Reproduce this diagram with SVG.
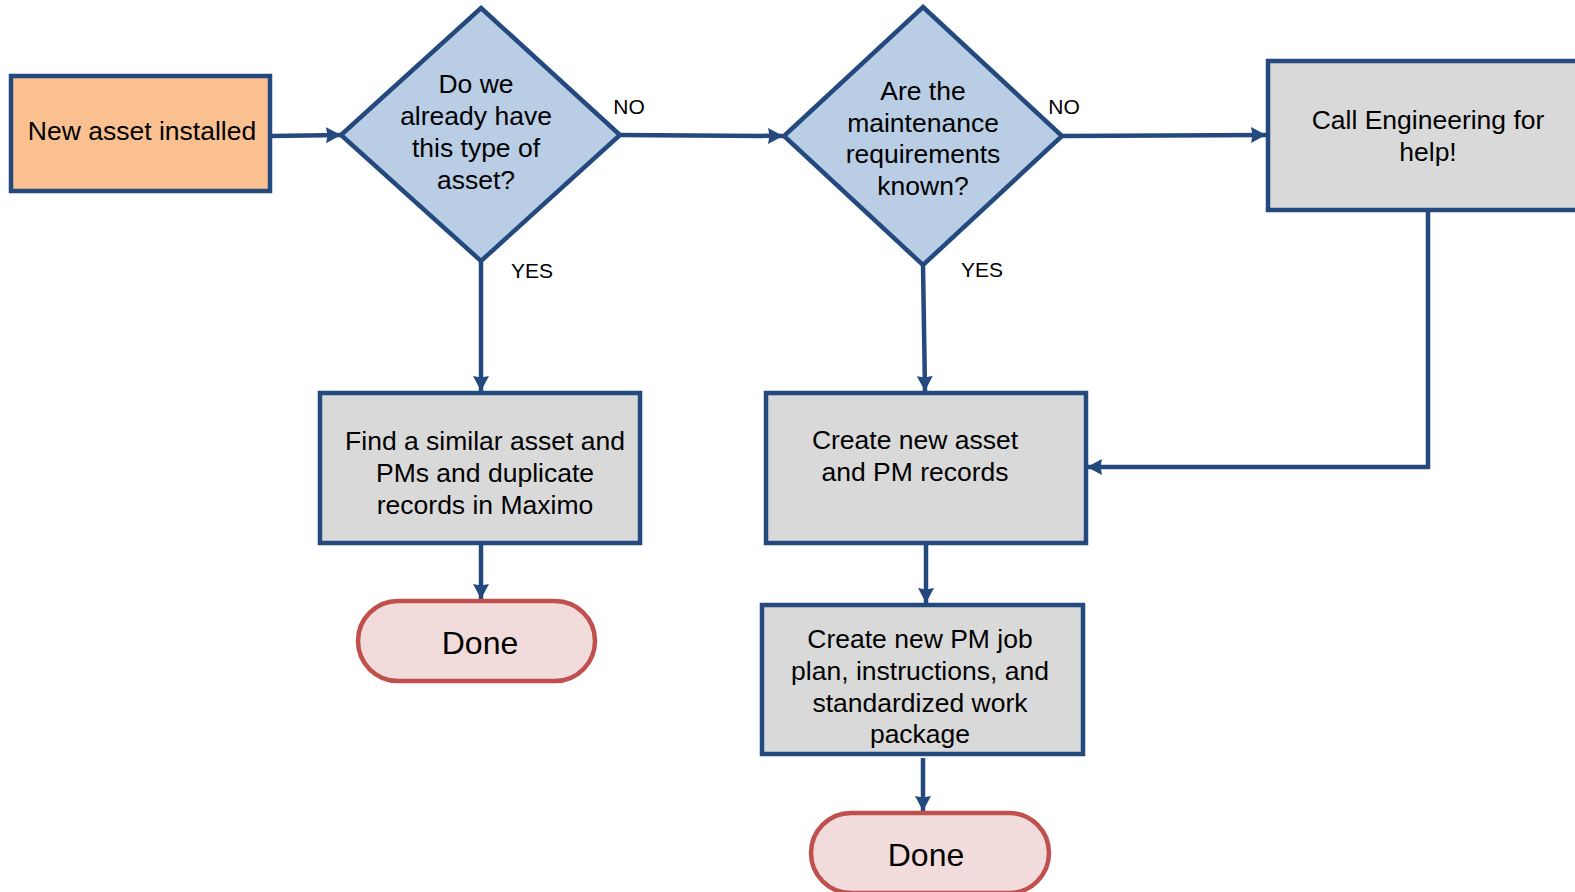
<svg xmlns="http://www.w3.org/2000/svg" width="1575" height="892" viewBox="0 0 1575 892">
<style>
.t{font-family:"Liberation Sans",Arial,sans-serif;font-size:26.5px;fill:#000;text-anchor:middle}
.lbl{font-family:"Liberation Sans",Arial,sans-serif;font-size:21px;fill:#000;text-anchor:middle}
.done{font-family:"Liberation Sans",Arial,sans-serif;font-size:32px;fill:#000;text-anchor:middle}
.box{fill:#D9D9D9;stroke:#24497E;stroke-width:4.5}
.dia{fill:#B9CDE5;stroke:#24497E;stroke-width:4.5;stroke-linejoin:miter}
.term{fill:#F2DCDB;stroke:#C0504D;stroke-width:4.5}
.c{fill:none;stroke:#24497E;stroke-width:4.5;marker-end:url(#ah)}
</style>
<defs>
<marker id="ah" markerUnits="userSpaceOnUse" markerWidth="17" markerHeight="17" refX="15" refY="8" orient="auto">
<path d="M0,0 L15,8 L0,16 L1.5,8 z" fill="#24497E"/>
</marker>
</defs>
<rect width="1575" height="892" fill="#fff"/>
<g id="connectors">
<path class="c" d="M271,136 L341,135"/>
<path class="c" d="M620,135 L783,136"/>
<path class="c" d="M1062,136 L1266,135"/>
<path class="c" d="M481,262 L481,391"/>
<path class="c" d="M923,265 L925,391"/>
<path class="c" d="M1428,210 L1428,467 L1087,467"/>
<path class="c" d="M481,543 L481,599"/>
<path class="c" d="M926,543 L926,603"/>
<path class="c" d="M923,758 L923,811"/>
</g>
<g id="labels">
<text class="lbl" x="629" y="114">NO</text>
<text class="lbl" x="1064" y="114">NO</text>
<text class="lbl" x="532" y="278">YES</text>
<text class="lbl" x="982" y="277">YES</text>
</g>
<g id="start">
<rect x="11" y="76" width="259" height="115" fill="#FAC090" stroke="#24497E" stroke-width="4.5"/>
<text class="t" x="142" y="140">New asset installed</text>
</g>
<g id="decision1">
<polygon class="dia" points="481,8 620,135 481,261 341,135"/>
<text class="t" x="476" y="93">Do we</text>
<text class="t" x="476" y="125">already have</text>
<text class="t" x="476" y="157">this type of</text>
<text class="t" x="476" y="189">asset?</text>
</g>
<g id="decision2">
<polygon class="dia" points="923,7 1062,136 923,265 784,136"/>
<text class="t" x="923" y="100">Are the</text>
<text class="t" x="923" y="132">maintenance</text>
<text class="t" x="923" y="163">requirements</text>
<text class="t" x="923" y="195">known?</text>
</g>
<g id="callEngineering">
<rect class="box" x="1268" y="61" width="330" height="149"/>
<text class="t" x="1428" y="129">Call Engineering for</text>
<text class="t" x="1428" y="161">help!</text>
</g>
<g id="findSimilar">
<rect class="box" x="320" y="393" width="320" height="150"/>
<text class="t" x="485" y="450">Find a similar asset and</text>
<text class="t" x="485" y="482">PMs and duplicate</text>
<text class="t" x="485" y="514">records in Maximo</text>
</g>
<g id="createAsset">
<rect class="box" x="766" y="393" width="320" height="150"/>
<text class="t" x="915" y="449">Create new asset</text>
<text class="t" x="915" y="481">and PM records</text>
</g>
<g id="createJobPlan">
<rect class="box" x="762" y="605" width="321" height="149"/>
<text class="t" x="920" y="648">Create new PM job</text>
<text class="t" x="920" y="680">plan, instructions, and</text>
<text class="t" x="920" y="712">standardized work</text>
<text class="t" x="920" y="743">package</text>
</g>
<g id="done1">
<rect class="term" x="358" y="601" width="237" height="80" rx="40" ry="40"/>
<text class="done" x="480" y="654">Done</text>
</g>
<g id="done2">
<rect class="term" x="811" y="813" width="238" height="80" rx="40" ry="40"/>
<text class="done" x="926" y="866">Done</text>
</g>
</svg>
